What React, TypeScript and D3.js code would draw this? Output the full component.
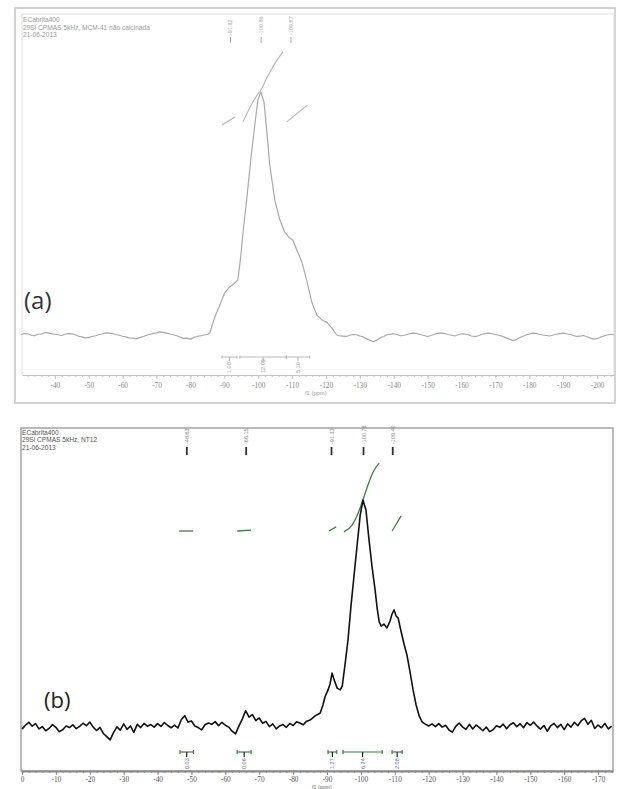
import React, { useEffect, useRef } from "react";
import * as d3 from "d3";

const W = 617;
const H = 789;

// ---------- Panel (a): MCM-41 não calcinada ----------
const spectrumA: [number, number][] = [
  [-30, 0.2], [-31, 0.6], [-32, 0.5], [-33, -0.1], [-34, -0.3], [-35, 0.3], [-36, 0.4], [-37, 1.0],
  [-38, 0.9], [-39, 0.5], [-40, 0.3], [-41, 0.1], [-42, -0.2], [-43, 0.3], [-44, 0.6], [-45, 0.5],
  [-46, 0.1], [-47, -0.5], [-48, -0.8], [-49, -1.2], [-50, -1.0], [-51, -0.6], [-52, -0.3], [-53, 0.2],
  [-54, 0.4], [-55, 0.9], [-56, 0.8], [-57, 0.6], [-58, 0.2], [-59, -0.1], [-60, -0.5], [-61, -0.8],
  [-62, -1.2], [-63, -1.3], [-64, -1.6], [-65, -1.1], [-66, -0.7], [-67, -0.1], [-68, 0.3], [-69, 0.7],
  [-70, 0.9], [-71, 1.3], [-72, 1.1], [-73, 0.8], [-74, 0.4], [-75, 0.1], [-76, -0.3], [-77, -0.9],
  [-78, -1.4], [-79, -1.3], [-80, -1.7], [-81, -1.0], [-82, -0.6], [-83, -0.3], [-84, 0.0], [-85, 0.2],
  [-85.7, 0.8], [-87.2, 7.4], [-88.7, 12.3], [-90.1, 17.3], [-91.6, 19.8], [-93.1, 21.4], [-94.0, 22.6],
  [-94.9, 32.9], [-95.5, 42], [-96.6, 55.6], [-97.8, 72], [-99.0, 86.4], [-99.9, 96.7], [-100.8, 100],
  [-101.7, 95.9], [-102.5, 84.4], [-103.4, 70], [-104.9, 55.6], [-106.4, 47.3], [-107.8, 42.4],
  [-109.3, 39.9], [-110.2, 39.1], [-111.4, 35], [-112.9, 30], [-114.3, 22.6], [-115.8, 13.6],
  [-117.3, 8.2], [-118.8, 6.2], [-120.2, 5.3], [-121.7, 2.9], [-123.2, 0.0], [-124.2, -0.4],
  [-125, -0.5], [-126, -0.6], [-127, -0.1], [-128, 0.2], [-129, 0.1], [-130, -0.4], [-131, -0.8],
  [-132, -1.5], [-133, -2.2], [-134, -2.8], [-135, -2.1], [-136, -1.2], [-137, -0.6], [-138, 0.1],
  [-139, 0.4], [-140, 0.5], [-141, 0.2], [-142, -0.3], [-143, -0.1], [-144, 0.2], [-145, 0.6],
  [-146, 0.8], [-147, 0.5], [-148, 0.1], [-149, -0.2], [-150, -0.6], [-151, -0.2], [-152, 0.3],
  [-153, 0.7], [-154, 0.9], [-155, 0.6], [-156, 0.2], [-157, -0.1], [-158, -0.4], [-159, 0.1],
  [-160, 0.5], [-161, 0.4], [-162, 0.1], [-163, -0.4], [-164, -0.7], [-165, -0.3], [-166, 0.3],
  [-167, 0.6], [-168, 0.8], [-169, 0.5], [-170, 0.2], [-171, -0.1], [-172, -0.5], [-173, -1.1],
  [-174, -1.6], [-175, -2.2], [-176, -2.0], [-177, -1.2], [-178, -0.6], [-179, 0.0], [-180, 0.4],
  [-181, 0.8], [-182, 0.7], [-183, 0.3], [-184, 0.0], [-185, -0.2], [-186, -0.4], [-187, 0.0],
  [-188, 0.3], [-189, 0.6], [-190, 0.8], [-191, 0.5], [-192, 0.2], [-193, -0.2], [-194, -0.6],
  [-195, -0.5], [-196, -0.2], [-197, -0.7], [-198, -1.3], [-199, -1.7], [-200, -1.5], [-201, -0.9],
  [-202, -0.4], [-203, 0.0], [-204, 0.3], [-205, 0.1],
];
const peaksA = [-91.82, -100.86, -109.67];
const integralRangesA: [number, number][] = [[-89.3, -93.7], [-94.6, -108.3], [-108.3, -115.2]];
const integralValuesA = ["1.00", "12.09", "5.10"];
const integralCurvesA: [number, number][][] = [
  [[-89.3, 86.4], [-93.1, 89.7]],
  [[-95.5, 87.7], [-97.5, 93.4], [-99.3, 97.9], [-100.8, 100.8], [-102.8, 106.6], [-105.2, 112.3], [-107.3, 116.5]],
  [[-108.4, 87.7], [-114.6, 94.7]],
];
const ticksA = d3.range(-40, -201, -10);
const headerA = ["ECabrita400", "29Si CPMAS 5kHz, MCM-41 não calcinada", "21-06-2013"];

// ---------- Panel (b): NT12 ----------
const spectrumB: [number, number][] = [
  [0, -0.5], [-1, 1.2], [-2, 2.5], [-3, 0.8], [-4, 1.9], [-5, -0.4], [-6, 0.6], [-7, -1.2], [-8, -0.2],
  [-9, 1.5], [-10, 0.3], [-11, -1.6], [-12, -0.8], [-13, 0.9], [-14, 0.2], [-15, 1.4], [-16, -0.3],
  [-17, 0.7], [-18, 2.1], [-19, 1.0], [-20, 2.6], [-21, 0.4], [-22, -1.1], [-23, 0.3], [-24, -2.4],
  [-25, -3.8], [-26, -5.2], [-27, -2.0], [-28, 0.5], [-29, -0.9], [-30, 1.8], [-31, -0.6], [-32, 0.9],
  [-33, -1.9], [-34, 1.6], [-35, 0.2], [-36, 2.0], [-37, 0.8], [-38, 1.5], [-39, 0.4], [-40, 1.9],
  [-41, 0.7], [-42, 2.4], [-43, 1.1], [-44, 0.1], [-45, 1.3], [-46, 0.0], [-47, 3.6], [-48, 5.4],
  [-49, 2.6], [-50, 3.1], [-51, 0.9], [-52, 0.2], [-53, -0.8], [-54, 1.4], [-55, 2.2], [-56, 1.6],
  [-57, 2.8], [-58, 1.0], [-59, 2.5], [-60, 1.2], [-61, 0.4], [-62, -1.4], [-63, -2.6], [-64, 0.8],
  [-65, 3.9], [-66, 7.6], [-67, 4.8], [-68, 5.9], [-69, 3.2], [-70, 4.4], [-71, 2.1], [-72, 2.9],
  [-73, 0.6], [-74, 1.8], [-75, -0.4], [-76, 0.9], [-77, 1.5], [-78, 0.3], [-79, 2.0], [-80, 1.1],
  [-81, 2.7], [-82, 2.2],
  [-83, 1.4], [-84, 3.0], [-85.0, 3.5], [-86.5, 5.3], [-88.0, 6.6], [-88.8, 10.1], [-89.4, 13.6],
  [-90.3, 16.7], [-90.9, 19.3], [-91.5, 24.1], [-92.1, 21.1], [-93.0, 17.5], [-93.9, 16.7],
  [-94.5, 18.4], [-95.3, 27.6], [-96.2, 38.6], [-97.1, 53.9], [-98.0, 67.1], [-98.9, 80.3],
  [-99.8, 93.4], [-100.6, 100], [-101.5, 95.6], [-102.4, 82.5], [-103.3, 70.6], [-104.2, 60.5],
  [-104.8, 52.6], [-105.4, 46.5], [-106.0, 44.7], [-106.8, 45.6], [-107.7, 43.9], [-108.6, 46.9],
  [-109.2, 50.0], [-109.8, 51.8], [-110.4, 49.1], [-111.0, 48.2], [-111.9, 42.1], [-112.8, 36.4],
  [-113.6, 32.0], [-114.5, 24.6], [-115.4, 16.7], [-116.3, 10.1], [-117.2, 5.3], [-118.1, 2.6],
  [-118.9, 1.8],
  [-120, 0.9], [-121, 1.8], [-122, 0.6], [-123, 1.9], [-124, 0.4], [-125, 1.2], [-126, -0.9],
  [-127, -1.8], [-128, 0.7], [-129, 2.2], [-130, 0.5], [-131, -0.6], [-132, 1.6], [-133, -0.4],
  [-134, 1.3], [-135, 0.2], [-136, -1.2], [-137, 0.4], [-138, -1.6], [-139, -0.8], [-140, 1.0],
  [-141, 0.3], [-142, 1.7], [-143, -0.3], [-144, 1.4], [-145, 2.3], [-146, 0.6], [-147, 1.9],
  [-148, 0.1], [-149, 2.4], [-150, 1.2], [-151, 2.6], [-152, 0.8], [-153, -0.5], [-154, 1.1],
  [-155, -1.4], [-156, 0.9], [-157, 2.0], [-158, 0.2], [-159, 1.6], [-160, -0.7], [-161, 1.8],
  [-162, 0.4], [-163, 2.5], [-164, 1.0], [-165, 3.1], [-166, 4.2], [-167, 1.6], [-168, 3.4],
  [-169, -0.2], [-170, 1.3], [-171, 0.1], [-172, 2.0], [-173, -0.4], [-174, 0.8],
];
const peaksB = [-48.63, -66.15, -91.33, -100.78, -109.40];
const integralRangesB: [number, number][] = [[-46.6, -50.6], [-63.5, -67.6], [-90.3, -92.9], [-94.7, -106.3], [-109.2, -112.2]];
const integralValuesB = ["0.03", "0.06", "1.27", "6.24", "2.08"];
const integralCurvesB: [number, number][][] = [
  [[-46.3, 86.4], [-50.5, 86.4]],
  [[-63.5, 86.4], [-67.6, 86.8]],
  [[-90.6, 86.4], [-92.7, 88.2]],
  [[-95.0, 86.0], [-97.4, 89.0], [-99.2, 94.3], [-100.6, 100], [-102.1, 106.6], [-103.6, 112.3], [-105.4, 116.2]],
  [[-109.2, 86.4], [-111.9, 93.0]],
];
const ticksB = d3.range(0, -171, -10);
const headerB = ["ECabrita400", "29Si CPMAS 5kHz, NT12", "21-06-2013"];

type AxisProps = {
  scale: d3.ScaleLinear<number, number>;
  y: number;
  ticks: number[];
  minor: number[];
  stroke: string;
  strokeWidth: number;
  textColor: string;
  padding: number;
};

function Axis({ scale, y, ticks, minor, stroke, strokeWidth, textColor, padding }: AxisProps) {
  const ref = useRef<SVGGElement>(null);
  useEffect(() => {
    const g = d3.select(ref.current as SVGGElement);
    g.selectAll("*").remove();
    const gm = g.append("g");
    gm.call(
      d3.axisBottom(scale).tickValues(minor).tickSize(2).tickSizeOuter(0).tickFormat(() => "")
    );
    gm.select(".domain").remove();
    gm.selectAll("line").attr("stroke", stroke);
    const gM = g.append("g");
    gM.call(
      d3.axisBottom(scale).tickValues(ticks).tickSize(4).tickSizeOuter(0).tickPadding(padding)
        .tickFormat((d) => String(d))
    );
    gM.attr("font-family", "'Liberation Serif', serif").attr("font-size", 7.3);
    gM.select(".domain").attr("stroke", stroke).attr("stroke-width", strokeWidth);
    gM.selectAll("line").attr("stroke", stroke);
    gM.selectAll("text").attr("fill", textColor);
  }, [scale, y, ticks, minor, stroke, strokeWidth, textColor, padding]);
  return <g ref={ref} transform={`translate(0,${y})`} />;
}

export default function App() {
  // Panel (a) scales
  const xA = d3.scaleLinear().domain([-30.3, -205]).range([22, 614]);
  const yA = d3.scaleLinear().domain([0, 100]).range([335, 92]);
  // Panel (b) scales
  const xB = d3.scaleLinear().domain([0.3, -174.4]).range([21, 613]);
  const yB = d3.scaleLinear().domain([0, 100]).range([728, 500]);

  const lineA = d3.line<[number, number]>().x((d) => xA(d[0])).y((d) => yA(d[1]));
  const lineB = d3.line<[number, number]>().x((d) => xB(d[0])).y((d) => yB(d[1]));
  const curveA = d3.line<[number, number]>().x((d) => xA(d[0])).y((d) => yA(d[1])).curve(d3.curveMonotoneX);
  const curveB = d3.line<[number, number]>().x((d) => xB(d[0])).y((d) => yB(d[1])).curve(d3.curveMonotoneX);

  const minorA = d3.range(-32, -205, -2);
  const minorB = d3.range(0, -175, -2);

  const sans = "'Liberation Sans', Arial, sans-serif";
  const green = "#3f7f3f";

  return (
    <svg
      width={W}
      height={H}
      viewBox={`0 0 ${W} ${H}`}
      style={{ position: "absolute", left: 0, top: 0, display: "block", background: "#fff" }}
    >
      <rect x={0} y={0} width={W} height={H} fill="#fff" />

      {/* ===== Panel (a) ===== */}
      <rect x={15} y={8} width={600} height={395} fill="none" stroke="#c8c8c8" strokeWidth={1.6} />
      <polyline points="22,375 22,14 614,14 614,375" fill="none" stroke="#e0e0e0" strokeWidth={1} />
      {headerA.map((t, i) => (
        <text key={i} x={23} y={22 + i * 7.6} fontFamily={sans} fontSize={6.6} fill="#9a9a9a">
          {t}
        </text>
      ))}
      {peaksA.map((p, i) => (
        <g key={i}>
          <text
            transform={`translate(${xA(p) + 2},35) rotate(-90)`}
            fontFamily={sans}
            fontSize={5.5}
            fill="#aaa"
          >
            {p.toFixed(2)}
          </text>
          <line x1={xA(p)} x2={xA(p)} y1={37} y2={43} stroke="#aaa" strokeWidth={1} />
        </g>
      ))}
      {integralCurvesA.map((c, i) => (
        <path key={i} d={curveA(c) || ""} fill="none" stroke="#b4b4b4" strokeWidth={1.1} />
      ))}
      <path d={lineA(spectrumA) || ""} fill="none" stroke="#a9a9a9" strokeWidth={1.2} strokeLinejoin="round" />
      {integralRangesA.map((r, i) => {
        const x1 = xA(r[0]);
        const x2 = xA(r[1]);
        const xm = (x1 + x2) / 2;
        return (
          <g key={i} stroke="#b0b0b0" strokeWidth={0.9}>
            <line x1={x1} x2={x2} y1={357} y2={357} />
            <line x1={x1} x2={x1} y1={355.5} y2={358.5} />
            <line x1={x2} x2={x2} y1={355.5} y2={358.5} />
            <line x1={xm} x2={xm} y1={357} y2={361} />
            <text
              transform={`translate(${xm + 2},373) rotate(-90)`}
              fontFamily={sans}
              fontSize={5.5}
              fill="#999"
              stroke="none"
            >
              {integralValuesA[i]}
            </text>
          </g>
        );
      })}
      <Axis scale={xA} y={375} ticks={ticksA} minor={minorA} stroke="#c4c4c4" strokeWidth={1.2} textColor="#8a8a8a" padding={4} />
      <text x={305} y={395} fontFamily={sans} fontSize={5.8} fill="#999">
        f1 (ppm)
      </text>
      <text x={24} y={309} fontFamily="'Open Sans', sans-serif" fontSize={24} fill="#333">
        (a)
      </text>

      {/* ===== Panel (b) ===== */}
      <rect x={21} y={428} width={592} height={343} fill="none" stroke="#a8a8a8" strokeWidth={1.6} />
      {headerB.map((t, i) => (
        <text key={i} x={22} y={434.5 + i * 7.8} fontFamily={sans} fontSize={6.6} fill="#555">
          {t}
        </text>
      ))}
      {peaksB.map((p, i) => (
        <g key={i}>
          <text
            transform={`translate(${xB(p) + 2},444) rotate(-90)`}
            fontFamily={sans}
            fontSize={5.5}
            fill="#888"
          >
            {p.toFixed(2)}
          </text>
          <line x1={xB(p)} x2={xB(p)} y1={447} y2={455} stroke="#2a2f4a" strokeWidth={1.8} />
        </g>
      ))}
      {integralCurvesB.map((c, i) => (
        <path key={i} d={curveB(c) || ""} fill="none" stroke={green} strokeWidth={1.3} />
      ))}
      <path d={lineB(spectrumB) || ""} fill="none" stroke="#111" strokeWidth={1.6} strokeLinejoin="round" />
      {integralRangesB.map((r, i) => {
        const x1 = xB(r[0]);
        const x2 = xB(r[1]);
        const xm = (x1 + x2) / 2;
        return (
          <g key={i}>
            <line x1={x1} x2={x2} y1={752} y2={752} stroke={green} strokeWidth={1.2} />
            <line x1={x1} x2={x1} y1={750} y2={754} stroke={green} strokeWidth={1.2} />
            <line x1={x2} x2={x2} y1={750} y2={754} stroke={green} strokeWidth={1.2} />
            <line x1={xm} x2={xm} y1={752} y2={757} stroke="#222" strokeWidth={1.2} />
            <text
              transform={`translate(${xm + 2},769) rotate(-90)`}
              fontFamily={sans}
              fontSize={5.5}
              fill="#6b6b9a"
            >
              {integralValuesB[i]}
            </text>
          </g>
        );
      })}
      <Axis scale={xB} y={771} ticks={ticksB} minor={minorB} stroke="#8a8a8a" strokeWidth={2} textColor="#555" padding={2} />
      <text x={312} y={788.5} fontFamily={sans} fontSize={5.3} fill="#666">
        f1 (ppm)
      </text>
      <text x={44} y={708} fontFamily="'Open Sans', sans-serif" fontSize={22} fill="#222">
        (b)
      </text>
    </svg>
  );
}
